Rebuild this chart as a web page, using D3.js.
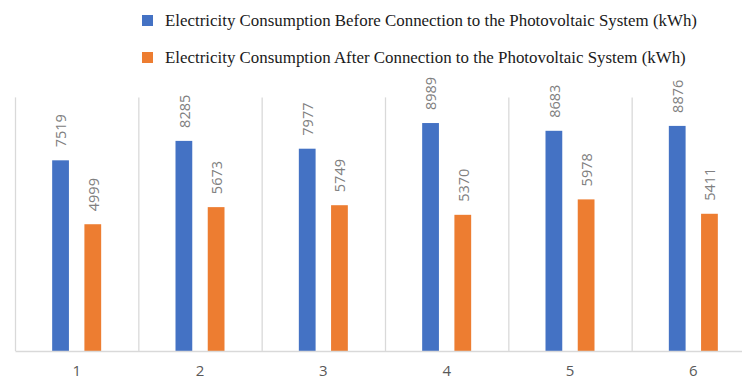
<!DOCTYPE html>
<html>
<head>
<meta charset="utf-8">
<script src="https://cdn.jsdelivr.net/npm/d3@7"></script>
<style>
  html, body { margin: 0; padding: 0; background: #fff; }
  svg { display: block; }
</style>
</head>
<body>
<svg id="chart" width="742" height="382"></svg>
<script>
const categories = ["1", "2", "3", "4", "5", "6"];
const beforeValues = [7519, 8285, 7977, 8989, 8683, 8876];
const afterValues = [4999, 5673, 5749, 5370, 5978, 5411];
const seriesNames = [
  "Electricity Consumption Before Connection to the Photovoltaic System (kWh)",
  "Electricity Consumption After Connection to the Photovoltaic System (kWh)"
];
const seriesKeys = ["before", "after"];
const colors = ["#4472C4", "#ED7D31"];

const svg = d3.select("#chart");
const plotLeft = 15, plotRight = 755, plotTop = 97.4, plotBottom = 351;

const x0 = d3.scaleBand().domain(categories).range([plotLeft, plotRight]).padding(0);
const x1 = d3.scaleBand().domain(seriesKeys).range([-24.5, 24.5]).paddingInner(0.48).paddingOuter(0);
const y = d3.scaleLinear().domain([0, 10000]).range([plotBottom, plotTop]);
const color = d3.scaleOrdinal().domain(seriesKeys).range(colors);

const data = categories.map((c, i) => ({ cat: c, before: beforeValues[i], after: afterValues[i] }));

// vertical category gridlines
const gridG = svg.append("g");
gridG.selectAll("line")
  .data(categories)
  .join("line")
  .attr("x1", d => x0(d) + 0.5)
  .attr("x2", d => x0(d) + 0.5)
  .attr("y1", y(10000))
  .attr("y2", plotBottom)
  .attr("stroke", "#d9d9d9")
  .attr("stroke-width", 1.3);

// bars
const groups = svg.append("g").selectAll("g")
  .data(data)
  .join("g")
  .attr("transform", d => `translate(${x0(d.cat) + x0.bandwidth() / 2},0)`);

groups.selectAll("rect")
  .data(d => seriesKeys.map(k => ({ key: k, value: d[k] })))
  .join("rect")
  .attr("x", d => x1(d.key))
  .attr("width", x1.bandwidth())
  .attr("y", d => y(d.value))
  .attr("height", d => y(0) - y(d.value))
  .attr("fill", d => color(d.key));

groups.selectAll("text")
  .data(d => seriesKeys.map(k => ({ key: k, value: d[k] })))
  .join("text")
  .attr("transform", d => `translate(${x1(d.key) + x1.bandwidth() / 2 + 0.3},${y(d.value) - 13}) rotate(-90)`)
  .attr("text-anchor", "start")
  .attr("dominant-baseline", "central")
  .attr("font-family", "'Open Sans', sans-serif")
  .attr("font-size", "14.5px")
  .attr("fill", "#808080")
  .text(d => d.value);

// x axis
const xAxis = d3.axisBottom(x0).tickSize(0).tickPadding(14);
const axG = svg.append("g")
  .attr("transform", `translate(0,${plotBottom})`)
  .call(xAxis);
axG.select(".domain").attr("stroke", "#d9d9d9").attr("stroke-width", 1.3);
axG.selectAll("text")
  .attr("font-family", "'Open Sans', sans-serif")
  .attr("font-size", "15px")
  .attr("fill", "#595959");

// legend
const legend = svg.append("g");
const legY = [15, 52];
seriesKeys.forEach((k, i) => {
  legend.append("rect")
    .attr("x", 142)
    .attr("y", legY[i])
    .attr("width", 11)
    .attr("height", 11)
    .attr("fill", colors[i]);
  legend.append("text")
    .attr("x", 165)
    .attr("y", legY[i] + 10.5)
    .attr("font-family", "'Liberation Serif', 'Times New Roman', serif")
    .attr("font-size", "16.9px")
    .attr("fill", "#1a1a1a")
    .text(seriesNames[i]);
});
</script>
</body>
</html>
